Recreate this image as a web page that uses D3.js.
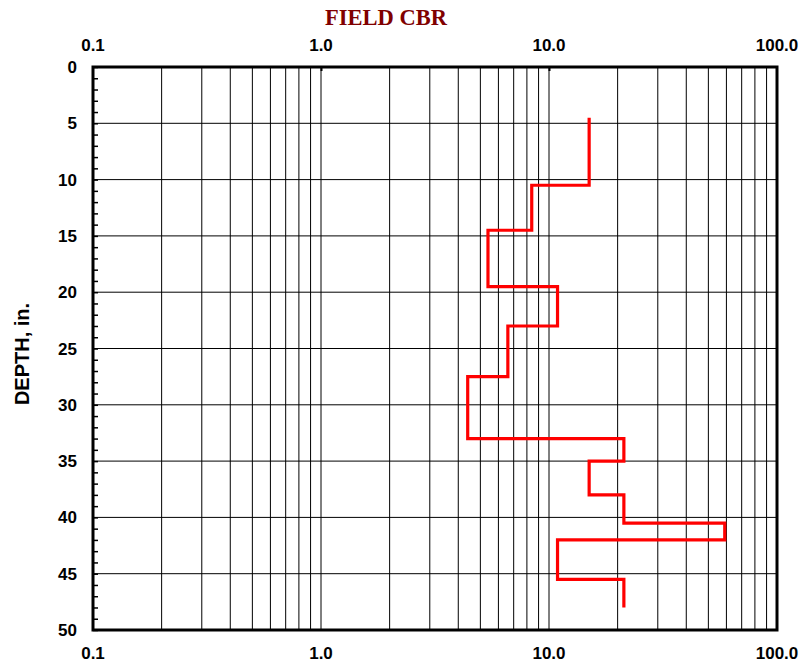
<!DOCTYPE html>
<html>
<head>
<meta charset="utf-8">
<script src="https://cdn.jsdelivr.net/npm/d3@7"></script>
<style>
  body { margin: 0; background: #fff; }
  svg { display: block; }
  .tick-label { font-family: "Liberation Sans", Arial, sans-serif; font-weight: bold; font-size: 17px; fill: #000; }
</style>
</head>
<body>
<div id="chart"></div>
<script>
// DATA
// Layer boundaries (depth, in.) and field CBR per layer
const layerTop    = [4.5, 10.5, 14.5, 19.5, 23, 27.5, 33, 35, 38, 40.5, 42, 45.5];
const layerBottom = [10.5, 14.5, 19.5, 23, 27.5, 33, 35, 38, 40.5, 42, 45.5, 48];
const fieldCbr    = [15, 8.4, 5.4, 10.9, 6.6, 4.4, 21.3, 15, 21.3, 59, 10.9, 21.3];

// Axis tick labels
const xTickValues = [0.1, 1, 10, 100];
const xTickLabels = ["0.1", "1.0", "10.0", "100.0"];
const yTickValues = [0, 5, 10, 15, 20, 25, 30, 35, 40, 45, 50];

const width = 806, height = 664;
const margin = {left: 93, top: 67, right: 29, bottom: 34};
const plotW = width - margin.left - margin.right;
const plotH = height - margin.top - margin.bottom;

const svg = d3.select("#chart")
  .append("svg")
    .attr("width", width)
    .attr("height", height);

const g = svg.append("g")
  .attr("transform", "translate(" + margin.left + "," + margin.top + ")");

const x = d3.scaleLog().domain([0.1, 100]).range([0, plotW]);
const y = d3.scaleLinear().domain([0, 50]).range([0, plotH]);

// vertical grid: every 1..9 within each decade
const xGrid = [];
for (let dec = 0.1; dec < 100; dec *= 10) {
  for (let k = 2; k <= 9; ++k) xGrid.push(k * dec);
  if (dec > 0.1) xGrid.push(dec);
}

g.selectAll(".vgrid")
  .data(xGrid)
  .enter()
  .append("line")
    .attr("x1", d => x(d)).attr("x2", d => x(d))
    .attr("y1", 0).attr("y2", plotH)
    .attr("stroke", "#000")
    .attr("stroke-width", 1);

// horizontal grid every 5 in.
g.selectAll(".hgrid")
  .data(yTickValues.slice(1, -1))
  .enter()
  .append("line")
    .attr("x1", 0).attr("x2", plotW)
    .attr("y1", d => y(d)).attr("y2", d => y(d))
    .attr("stroke", "#000")
    .attr("stroke-width", 1);

// minor depth ticks (each inch) on the left, pointing inward
g.append("g")
  .call(d3.axisRight(y).ticks(50).tickSize(5).tickFormat(""))
  .call(a => a.select(".domain").remove())
  .selectAll("line").attr("stroke-width", 1.5);

// decade ticks on top
g.append("g")
  .call(d3.axisBottom(x).tickValues([1, 10]).tickSize(4).tickFormat(""))
  .call(a => a.select(".domain").remove())
  .selectAll("line").attr("stroke-width", 2);

// field CBR step profile
const pts = [];
for (let i = 0; i < fieldCbr.length; ++i) {
  pts.push([fieldCbr[i], layerTop[i]]);
  pts.push([fieldCbr[i], layerBottom[i]]);
}

g.append("path")
  .datum(pts)
  .attr("d", d3.line().x(d => x(d[0])).y(d => y(d[1])))
  .attr("fill", "none")
  .attr("stroke", "#ff0000")
  .attr("stroke-width", 3.2)
  .attr("stroke-linejoin", "miter");

// frame
g.append("rect")
  .attr("width", plotW).attr("height", plotH)
  .attr("fill", "none")
  .attr("stroke", "#000")
  .attr("stroke-width", 3);

// x tick labels top and bottom
g.selectAll(".xtop")
  .data(xTickValues)
  .enter()
  .append("text")
    .attr("class", "tick-label")
    .attr("x", d => x(d))
    .attr("y", -16)
    .attr("text-anchor", "middle")
    .text((d, i) => xTickLabels[i]);

g.selectAll(".xbot")
  .data(xTickValues)
  .enter()
  .append("text")
    .attr("class", "tick-label")
    .attr("x", d => x(d))
    .attr("y", plotH + 29)
    .attr("text-anchor", "middle")
    .text((d, i) => xTickLabels[i]);

// y tick labels
g.selectAll(".ylab")
  .data(yTickValues)
  .enter()
  .append("text")
    .attr("class", "tick-label")
    .attr("x", -16)
    .attr("y", d => y(d) + 6)
    .attr("text-anchor", "end")
    .text(d => d);

// titles
svg.append("text")
  .attr("x", 386)
  .attr("y", 25)
  .attr("text-anchor", "middle")
  .style("font-family", "'Liberation Serif', 'Times New Roman', serif")
  .style("font-weight", "bold")
  .style("font-size", "22.5px")
  .attr("fill", "#800000")
  .text("FIELD CBR");

svg.append("text")
  .attr("transform", "translate(29,354) rotate(-90)")
  .attr("text-anchor", "middle")
  .style("font-family", "'Liberation Sans', Arial, sans-serif")
  .style("font-weight", "bold")
  .style("font-size", "20px")
  .text("DEPTH, in.");
</script>
</body>
</html>
